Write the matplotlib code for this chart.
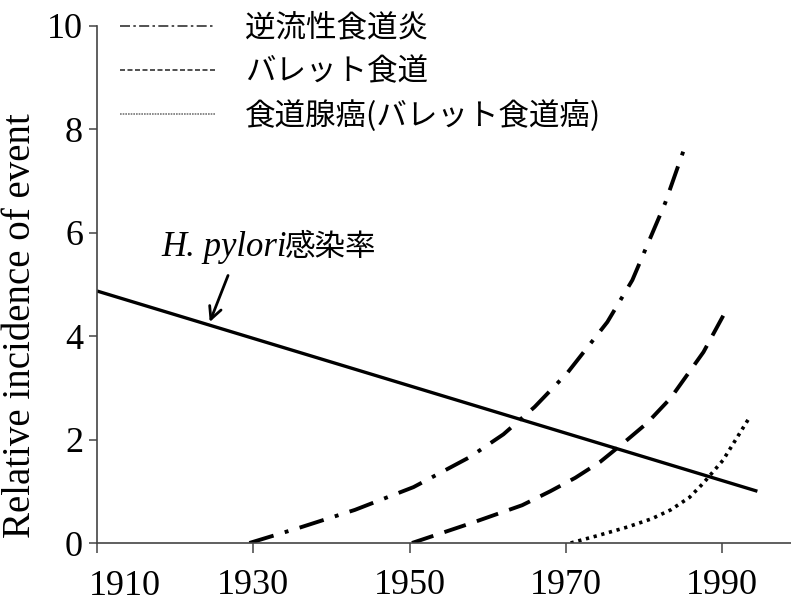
import matplotlib
matplotlib.use('Agg')
import matplotlib.pyplot as plt
from matplotlib.lines import Line2D

# データ
pylori_years = [1910, 1994.5]
pylori_vals = [4.87, 1.0]

reflux_years = [1929.5, 1936, 1943, 1950.5, 1957.7, 1962, 1966, 1970.2, 1975.3, 1978.5, 1982.7, 1985.3]
reflux_vals = [0, 0.3, 0.64, 1.08, 1.66, 2.1, 2.63, 3.29, 4.27, 5.08, 6.57, 7.69]

barrett_years = [1950.3, 1958, 1964.4, 1968, 1971.2, 1974.4, 1977.5, 1980.4, 1983.4, 1987.6, 1990.3]
barrett_vals = [0, 0.39, 0.73, 1.0, 1.26, 1.57, 1.95, 2.32, 2.8, 3.69, 4.44]

adeno_years = [1970.6, 1974, 1977.9, 1981, 1983.4, 1985.8, 1987.6, 1990.1, 1993.3]
adeno_vals = [0, 0.14, 0.31, 0.47, 0.64, 0.88, 1.16, 1.6, 2.38]

legend_labels = ['逆流性食道炎', 'バレット食道', '食道腺癌(バレット食道癌)']
x_ticks = [1910, 1930, 1950, 1970, 1990]
x_ticklabels = ['', '1930', '1950', '1970', '1990']  # 1910 は別に描く
y_ticks = [0, 2, 4, 6, 8, 10]

serif = ['Liberation Serif', 'DejaVu Serif']
cjk = ['Noto Sans CJK JP', 'DejaVu Sans']

fig = plt.figure(figsize=(7.91, 6.02), dpi=100)
ax = fig.add_axes([0.1226, 0.098, 0.8774, 0.8596])

ax.plot(pylori_years, pylori_vals, color='black', lw=2.4, solid_capstyle='butt')
ax.plot(reflux_years, reflux_vals, color='black', lw=2.8, linestyle=(0, (6.5, 3.0, 1, 3.0)))
ax.plot(barrett_years, barrett_vals, color='black', lw=2.8, linestyle=(0, (5.8, 3.0)))
ax.plot(adeno_years, adeno_vals, color='black', lw=2.6, linestyle=(0, (0.9, 1.3)))

ax.set_xlim(1910, 1998.8)
ax.set_ylim(0, 10)
ax.set_xticks(x_ticks)
ax.set_xticklabels(x_ticklabels)
ax.set_yticks(y_ticks)
for lab in ax.get_xticklabels() + ax.get_yticklabels():
    lab.set_fontfamily(serif)
    lab.set_fontsize(26)

# 1910 のラベル（目盛りより右にずれている）
ax.annotate('1910', xy=(1910, 0), xycoords=('data', 'axes fraction'),
            xytext=(-6, -19.5), textcoords='offset points', ha='left', va='top',
            fontfamily=serif, fontsize=26)

ax.spines['top'].set_visible(False)
ax.spines['right'].set_visible(False)
ax.spines['left'].set_linewidth(1.2)
ax.spines['bottom'].set_linewidth(1.2)
ax.spines['left'].set_color('#444444')
ax.spines['bottom'].set_color('#444444')
ax.tick_params(axis='y', direction='out', length=6, width=1.1, pad=4, color='#444444')
ax.tick_params(axis='x', direction='out', length=7, width=1.1, pad=12, color='#444444')

ax.set_ylabel('Relative incidence of event', fontfamily=serif, fontsize=28)
ax.yaxis.set_label_coords(-0.083, 0.42)

# H. pylori 注釈
ax.annotate('', xy=(1924.3, 4.22), xytext=(1926.9, 5.22),
            arrowprops=dict(arrowstyle='->', color='black', lw=2, mutation_scale=22))
ax.text(1918.2, 5.55, 'H. pylori', fontfamily=serif, fontstyle='italic', fontsize=25,
        va='baseline', ha='left')
ax.text(1933.9, 5.55, '感染率', fontfamily=cjk, fontsize=22, va='baseline', ha='left')

# 凡例
handles = [
    Line2D([], [], color='#333333', lw=1.2, linestyle=(0, (6, 2, 1.5, 2))),
    Line2D([], [], color='#333333', lw=1.2, linestyle=(0, (3, 1.5))),
    Line2D([], [], color='#777777', lw=1.2, linestyle=(0, (1, 0.6))),
]
leg = fig.legend(handles, legend_labels, loc='upper left', bbox_to_anchor=(0.117, 1.025),
                 frameon=False, prop={'family': cjk, 'size': 22},
                 handlelength=3.1, handletextpad=1.0, labelspacing=0.42)

fig.savefig('out.png', dpi=100)
